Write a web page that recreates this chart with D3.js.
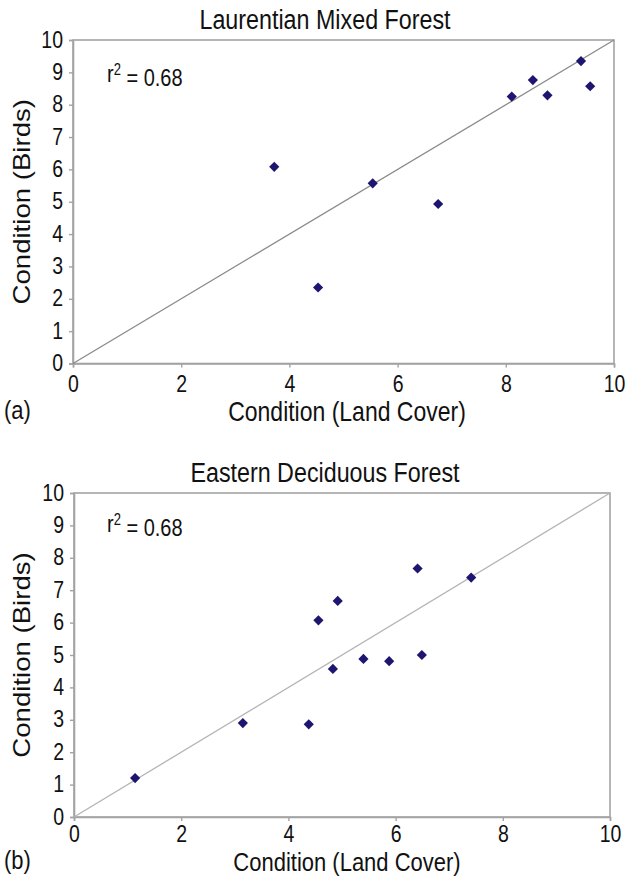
<!DOCTYPE html>
<html><head><meta charset="utf-8">
<script src="https://cdn.jsdelivr.net/npm/d3@7"></script>
<style>html,body{margin:0;padding:0;background:#fff;}svg{display:block;font-family:"Liberation Sans",Arial,sans-serif;}</style>
</head><body>
<svg id="c" width="628" height="877"></svg>
<script>
// Panel (a) Laurentian Mixed Forest
const laurentianLand  = [3.72, 5.54, 8.11, 8.50, 8.77, 9.39, 9.56, 4.53, 6.75];
const laurentianBirds = [6.08, 5.57, 8.25, 8.76, 8.29, 9.35, 8.57, 2.35, 4.93];
// Panel (b) Eastern Deciduous Forest
const easternLand  = [4.56, 4.92, 6.41, 7.41, 5.40, 5.88, 6.49, 4.83, 3.15, 4.38, 1.14];
const easternBirds = [6.07, 6.67, 7.67, 7.39, 4.88, 4.81, 5.00, 4.57, 2.90, 2.86, 1.20];
const xTicks = [0, 2, 4, 6, 8, 10];
const yTicks = [0, 1, 2, 3, 4, 5, 6, 7, 8, 9, 10];
const titles = ["Laurentian Mixed Forest", "Eastern Deciduous Forest"];
const panelLabels = ["(a)", "(b)"];
const rSquared = ["0.68", "0.68"];
const xLabel = "Condition (Land Cover)";
const yLabel = "Condition (Birds)";

const svg = d3.select("#c");
const panels = [
  {x0: 73, x1: 614, y0: 40, y1: 363.5, land: laurentianLand, birds: laurentianBirds, line: "#8a8a8a", rY: 82, labOff: 57, tickOff: 20, labSize: 23},
  {x0: 74, x1: 610, y0: 493, y1: 817, land: easternLand, birds: easternBirds, line: "#b4b4b4", rY: 532, labOff: 54, tickOff: 17, labSize: 22}
];
const frame = "#a3a3a3";
const SY = 1.2; // vertical stretch of the reference lettering

function stretchedText(g, x, y, size, str, anchor, rot) {
  return g.append("text")
    .attr("transform", `translate(${x},${y})` + (rot ? ` rotate(${rot}) scale(${SY},1)` : ` scale(1,${SY})`))
    .attr("text-anchor", anchor || "start")
    .style("font-size", size + "px").attr("fill", "#111").text(str);
}

panels.forEach((p, i) => {
  const x = d3.scaleLinear().domain([0, 10]).range([p.x0, p.x1]);
  const y = d3.scaleLinear().domain([0, 10]).range([p.y1, p.y0]);
  const g = svg.append("g");

  g.append("rect").attr("x", p.x0).attr("y", p.y0)
    .attr("width", p.x1 - p.x0).attr("height", p.y1 - p.y0)
    .attr("fill", "none").attr("stroke", frame).attr("stroke-width", 1.6);

  const xa = g.append("g").attr("transform", `translate(0,${p.y1})`)
    .call(d3.axisBottom(x).tickValues(xTicks).tickSize(4).tickFormat(d3.format("d")));
  const ya = g.append("g").attr("transform", `translate(${p.x0},0)`)
    .call(d3.axisLeft(y).tickValues(yTicks).tickSize(4).tickFormat(d3.format("d")));
  [xa, ya].forEach(a => {
    a.select(".domain").attr("stroke", frame).attr("stroke-width", 1.6);
    a.selectAll(".tick line").attr("stroke", frame).attr("stroke-width", 1.4);
    a.selectAll(".tick text").attr("fill", "#111").style("font-size", "19.5px")
      .style("font-family", '"Liberation Sans",Arial,sans-serif');
  });
  xa.selectAll(".tick text").attr("y", 0).attr("dy", "0.36em")
    .attr("transform", `translate(0,${p.tickOff}) scale(1,${SY})`);
  ya.selectAll(".tick text").attr("x", -10).attr("y", 0).attr("dy", "0.30em")
    .attr("transform", `scale(1,${SY})`);

  g.append("line").attr("x1", x(0)).attr("y1", y(0)).attr("x2", x(10)).attr("y2", y(10))
    .attr("stroke", p.line).attr("stroke-width", 1.3);

  const pts = p.land.map((v, k) => ({x: v, y: p.birds[k]}));
  g.selectAll("path.pt").data(pts).join("path").attr("class", "pt")
    .attr("d", d3.symbol(d3.symbolSquare).size(52))
    .attr("transform", d => `translate(${x(d.x)},${y(d.y)}) rotate(45)`)
    .attr("fill", "#1e1570");

  stretchedText(g, 325, p.y0 - 11, 23.3, titles[i], "middle");
  stretchedText(g, 347, p.y1 + p.labOff, p.labSize, xLabel, "middle");
  stretchedText(g, 30, (p.y0 + p.y1) / 2, 23, yLabel, "middle", -90);
  stretchedText(g, 4, p.y1 + p.labOff - 2, 22, panelLabels[i], "start");

  const rt = stretchedText(g, 107, p.rY, 20, "", "start");
  rt.append("tspan").text("r");
  rt.append("tspan").attr("dy", "-0.45em").style("font-size", "13px").text("2");
  rt.append("tspan").attr("dy", "0.45em").text(" = " + rSquared[i]);
});
</script>
</body></html>
